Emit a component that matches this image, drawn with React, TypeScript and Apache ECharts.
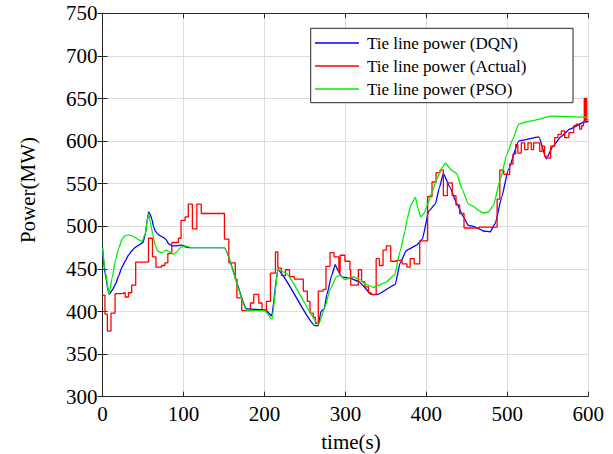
import React, { useEffect, useRef } from "react";
import * as echarts from "echarts";

const seriesNames = ["Tie line power (DQN)", "Tie line power (Actual)", "Tie line power (PSO)"];
const xTitle = "time(s)";
const yTitle = "Power(MW)";

// [time (s), power (MW)]
const dqn: number[][] = [
  [0, 475], [3, 445], [8, 420], [12, 425], [16, 432], [20, 442], [24, 452], [28, 459], [32, 466],
  [36, 471], [40, 475], [45, 478], [50, 481], [53, 491], [55, 506], [57, 517], [59, 514], [61, 508],
  [63, 500], [65, 495], [68, 491], [71, 489], [75, 487], [78, 485], [82, 479], [86, 477], [92, 477],
  [98, 478], [102, 476], [106, 475], [150, 475], [151, 474], [178, 403], [201, 402], [209, 395],
  [216.5, 449], [262.4, 383.5], [266.5, 383.5], [269.8, 400], [273.9, 403], [277, 419.7], [283.3, 443],
  [287.4, 455], [291.5, 447], [295.6, 440.5], [305.9, 439], [316.2, 435.4], [332.6, 419.7], [338.8, 419.7],
  [361.4, 431.5], [367.6, 457], [375, 471], [378, 473], [388, 478], [395, 485], [403, 518], [411, 526],
  [416, 545], [421, 562], [429, 546], [437.5, 527], [445.7, 511], [451.9, 501], [458, 500], [464.3, 497.3],
  [470.4, 494.5], [478.7, 493.4], [484.9, 503], [493, 534], [501, 566], [514, 600], [539, 605],
  [548, 579], [556.4, 594], [566, 605], [577, 614], [595.5, 622.4], [600, 623],
];

const actual: number[][] = [
  [0, 419], [3, 397], [6, 377], [10.5, 398], [15.5, 421], [26, 422], [28, 417], [32, 422], [36, 431],
  [41, 458], [52.7, 458], [56.8, 486], [61.7, 464], [66, 452], [73, 454], [77, 457], [80.7, 468],
  [85.6, 481], [93.8, 486], [97, 507], [102, 511], [106, 526], [111, 497], [116.5, 526], [122, 515],
  [150.6, 485], [156, 457], [164, 438], [166, 416], [172, 401], [182.7, 410], [186.8, 420], [193, 410],
  [197, 401], [202.5, 412], [207.4, 445], [213.6, 470], [216.5, 451], [221, 442], [226, 449], [231, 441],
  [237, 438], [248, 424], [253, 412], [256.3, 398], [260.4, 393], [263, 386], [266.5, 424], [272.6, 426],
  [276, 453], [281, 469], [286, 464], [292, 446], [293.5, 466], [299.4, 459], [305.6, 449], [306.5, 431],
  [316, 449], [320, 435], [324, 429], [328.5, 422], [331.7, 420], [338, 462], [342, 454], [346.5, 472],
  [350.5, 477], [356, 459], [363, 460], [370, 456], [376, 452], [380, 462], [385, 456], [391.8, 483],
  [401.6, 535], [407, 552], [412, 563], [417, 566], [421, 536], [426, 551], [432, 536], [436.6, 525],
  [441, 515], [446.5, 498], [465.4, 499], [487.4, 532], [490.7, 566], [495.6, 561], [502.9, 573],
  [507, 585], [510.3, 596], [513, 586], [517.3, 598], [521.4, 590], [525.5, 598], [529.6, 590],
  [532.5, 598], [540, 588], [543, 594], [546, 582], [550, 580], [553.5, 594], [558.4, 604], [562.5, 608],
  [566.7, 612], [570.8, 604], [576, 610], [582, 618], [585, 620], [589.3, 614], [591.8, 618], [594, 623],
  [595, 650], [596, 624], [597, 650], [598, 625], [600, 625],
];

const pso: number[][] = [
  [0, 475], [3, 450], [8, 420], [12, 440], [16, 460], [20, 474], [24, 485], [28, 489], [32, 490],
  [36, 489], [40, 487], [45, 484], [49, 482], [53, 492], [55, 505], [57, 515], [59, 505], [62, 491],
  [65, 478], [68, 471], [73, 469], [79, 472], [84, 469], [88, 467], [92, 470], [96, 475], [102, 477],
  [110, 475], [150, 475], [151, 474], [178, 401], [200, 401], [209.5, 391], [216.5, 449], [226, 445.5],
  [267, 385], [275, 406], [281, 425.6], [289, 441], [294, 442.5], [299.4, 437.4], [309.6, 440.5],
  [318, 437.4], [326, 431.5], [334.3, 428.3], [348.7, 433.5], [361, 443.3], [367.6, 470.9], [373.7, 494.5],
  [376, 508], [381, 525], [386.4, 534], [390, 520], [393, 511], [397, 515], [401.6, 526], [407, 540],
  [413, 555.7], [418, 567], [423.5, 574], [431.7, 565.5], [437.5, 561.7], [444, 544], [451.9, 526],
  [458, 523.4], [464.3, 518.8], [470.4, 515.6], [476.6, 516.8], [482.8, 524.6], [491, 554], [499.6, 585],
  [507, 603], [514, 620], [523.5, 622.4], [536, 625], [554, 629.4], [600, 628],
];

const FONT = "Liberation Serif";
const AXIS_COLOR = "#262626";
const GRID_COLOR = "#dcdcdc";

export default function App() {
  const ref = useRef<HTMLDivElement>(null);
  useEffect(() => {
    if (!ref.current) return;
    const chart = echarts.init(ref.current, undefined, { renderer: "svg" });
    const axisCommon = {
      type: "value" as const,
      axisLine: { show: true, lineStyle: { color: AXIS_COLOR, width: 1 } },
      axisTick: { show: true, inside: true, length: 5, lineStyle: { color: AXIS_COLOR } },
    };
    chart.setOption({
      animation: false,
      backgroundColor: "#ffffff",
      grid: { left: 102.5, right: 24.7, top: 13.3, bottom: 57.3, containLabel: false },
      xAxis: [
        {
          ...axisCommon,
          position: "bottom",
          min: 0,
          max: 600,
          interval: 100,
          axisLabel: { color: "#000", fontFamily: FONT, fontSize: 21, margin: 7 },
          splitLine: { show: true, lineStyle: { color: GRID_COLOR, width: 1 } },
        },
        {
          ...axisCommon,
          position: "top",
          min: 0,
          max: 600,
          interval: 100,
          axisLabel: { show: false },
          splitLine: { show: false },
        },
      ],
      yAxis: [
        {
          ...axisCommon,
          position: "left",
          min: 300,
          max: 750,
          interval: 50,
          axisLabel: { color: "#000", fontFamily: FONT, fontSize: 21, margin: 5 },
          splitLine: { show: true, lineStyle: { color: GRID_COLOR, width: 1 } },
        },
        {
          ...axisCommon,
          position: "right",
          min: 300,
          max: 750,
          interval: 50,
          axisLabel: { show: false },
          splitLine: { show: false },
        },
      ],
      legend: {
        data: seriesNames,
        orient: "vertical",
        left: 315,
        top: 34.5,
        padding: 0,
        icon: "rect",
        itemWidth: 44,
        itemHeight: 1.5,
        itemGap: 6,
        textStyle: { color: "#000", fontFamily: FONT, fontSize: 17, padding: [0, 0, 0, 3] },
        z: 10,
      },
      graphic: [
        {
          type: "rect",
          shape: { x: 310.7, y: 28.3, width: 262.3, height: 74.4 },
          style: { fill: "#ffffff", stroke: "#262626", lineWidth: 1 },
          z: 5,
        },
        {
          type: "text",
          x: 351,
          y: 442,
          style: {
            text: xTitle,
            fontFamily: FONT,
            fontSize: 21,
            fill: "#000",
            align: "center",
            verticalAlign: "middle",
          },
        },
        {
          type: "text",
          x: 28,
          y: 190,
          rotation: Math.PI / 2,
          style: {
            text: yTitle,
            fontFamily: FONT,
            fontSize: 21,
            fill: "#000",
            align: "center",
            verticalAlign: "middle",
          },
        },
      ],
      series: [
        {
          name: seriesNames[0],
          type: "line",
          data: dqn,
          symbol: "none",
          smooth: 0.15,
          smoothMonotone: "x",
          lineStyle: { color: "#0000ff", width: 1.3 },
          itemStyle: { color: "#0000ff" },
        },
        {
          name: seriesNames[1],
          type: "line",
          data: actual,
          symbol: "none",
          step: "end",
          lineStyle: { color: "#ff0000", width: 1.3 },
          itemStyle: { color: "#ff0000" },
        },
        {
          name: seriesNames[2],
          type: "line",
          data: pso,
          symbol: "none",
          smooth: 0.15,
          smoothMonotone: "x",
          lineStyle: { color: "#00ee00", width: 1.3 },
          itemStyle: { color: "#00ee00" },
        },
      ],
    });
    return () => chart.dispose();
  }, []);
  return (
    <div
      ref={ref}
      style={{ position: "fixed", left: 0, top: 0, width: 613, height: 454, background: "#fff" }}
    />
  );
}
